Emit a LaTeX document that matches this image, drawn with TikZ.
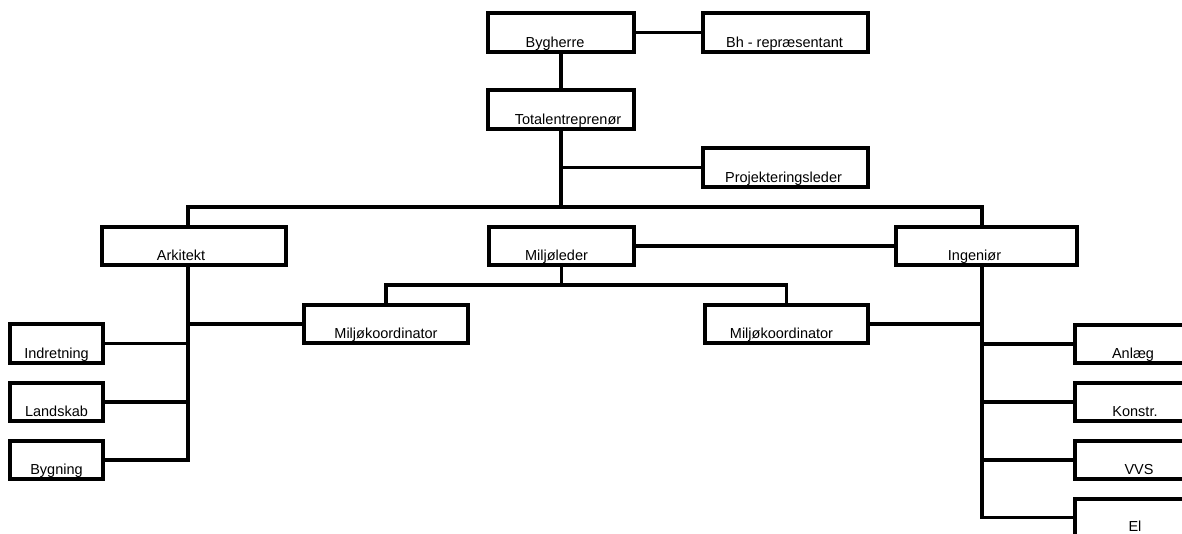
\documentclass[tikz,border=0pt]{standalone}
\usepackage{fontspec}
\setmainfont{Liberation Sans}
\tikzset{
  orgbox/.style={draw=black, line width=3.2pt, rectangle, inner sep=0pt, fill=white},
  orgtxt/.style={anchor=base, inner sep=0pt, font=\fontsize{14.5}{16}\selectfont},
  link/.style={draw=black, line width=3.2pt}
}
% name, x1, y1, x2, y2, dx, text
\newcommand\orgbox[7]{%
  \node[orgbox, minimum width={(#4-#2)*1pt}, minimum height={(#5-#3)*1pt}] (#1) at ({(#2+#4)/2},{(#3+#5)/2}) {};
  \node[orgtxt] (#1-t) at ([xshift=#6pt, yshift=6pt]#1.south) {#7};
}
\begin{document}
\begin{tikzpicture}[x=1pt, y=-1pt]
\useasboundingbox (0,0) rectangle (1182,533);
\clip (0,0) rectangle (1182,533);
\coordinate (ax) at (188,207);
\coordinate (ix) at (982,207);
\coordinate (mb) at (561,285);

\orgbox{by}{488}{13}{634}{52}{-6}{Bygherre}
\orgbox{bh}{703}{13}{868}{52}{-1}{Bh - repræsentant}
\orgbox{te}{488}{90}{634}{129}{7}{Totalentreprenør}
\orgbox{pl}{703}{148}{868}{187}{-2}{Projekteringsleder}
\orgbox{ark}{102}{227}{286}{265}{-13}{Arkitekt}
\orgbox{ml}{489}{227}{634}{265}{-5}{Miljøleder}
\orgbox{ing}{896}{227}{1077}{265}{-12}{Ingeniør}
\orgbox{mk1}{304}{305}{468}{343}{0}{Miljøkoordinator}
\orgbox{mk2}{705}{305}{868}{343}{-5}{Miljøkoordinator}
\orgbox{ind}{10}{324}{103}{363}{0}{Indretning}
\orgbox{lan}{10}{383}{103}{421}{0}{Landskab}
\orgbox{byg}{10}{441}{103}{479}{0}{Bygning}
\orgbox{anl}{1075}{325}{1195}{363}{-2}{Anlæg}
\orgbox{kon}{1075}{383}{1195}{421}{0}{Konstr.}
\orgbox{vvs}{1075}{441}{1195}{479}{4}{VVS}
\orgbox{el}{1075}{499}{1195}{536}{0}{El}

\draw[link] (by.east) -- (bh.west);
\draw[link] (by.south) -- (te.north);
\draw[link] (te.south) -- (te.south |- ax);
\draw[link] (pl.west) -- (pl.west -| te.south);
\draw[link] (ax |- ark.north) -- (ax) -- (ix) -- (ix |- ing.north);
\draw[link] (ml.east) -- (ing.west);
\draw[link] (ml.south) -- (ml.south |- mb);
\draw[link] (mk1.north) -- (mk1.north |- mb) -- (mk2.north |- mb) -- (mk2.north);
% Arkitekt branch
\draw[link] (ax |- ark.south) -- (ax |- byg.east) -- (byg.east);
\draw[link] (ind.east) -- (ind.east -| ax);
\draw[link] (lan.east) -- (lan.east -| ax);
\draw[link] (mk1.west) -- (mk1.west -| ax);
% Ingenioer branch
\draw[link] (ix |- ing.south) -- (ix |- el.west) -- (el.west);
\draw[link] (anl.west) -- (anl.west -| ix);
\draw[link] (kon.west) -- (kon.west -| ix);
\draw[link] (vvs.west) -- (vvs.west -| ix);
\draw[link] (mk2.east) -- (mk2.east -| ix);
\end{tikzpicture}
\end{document}
